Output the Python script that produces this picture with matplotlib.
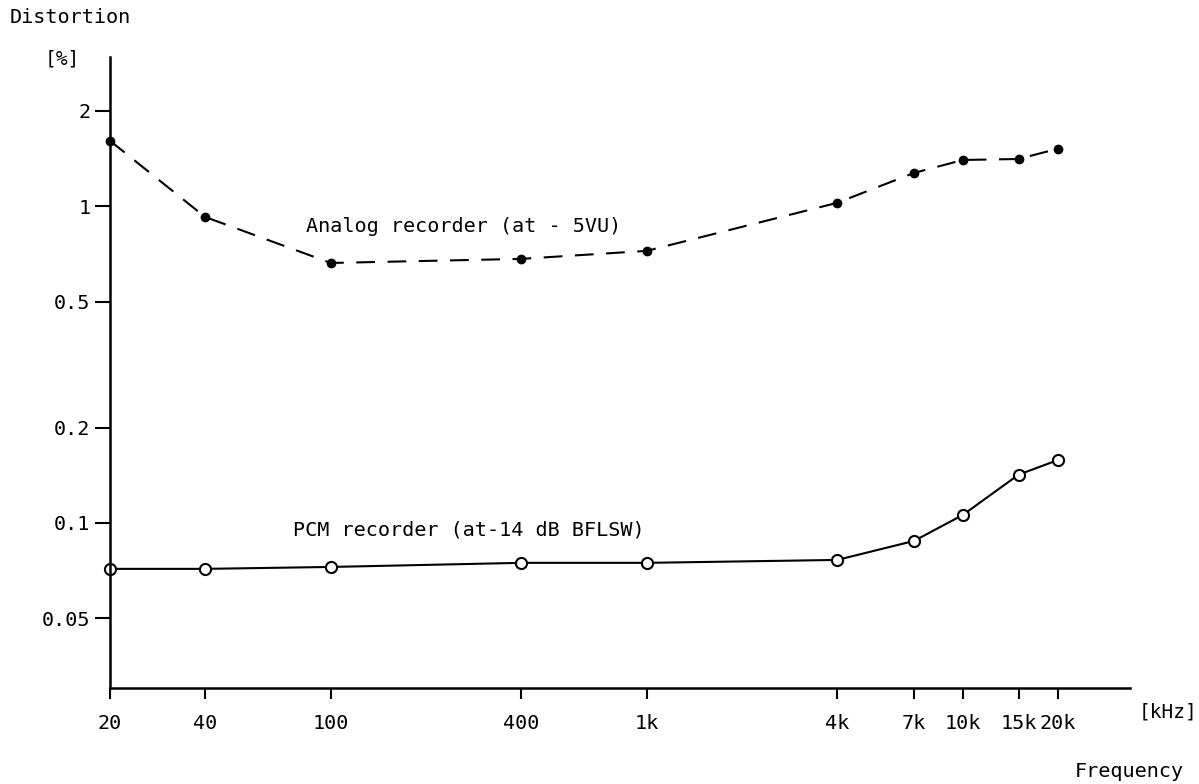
import numpy as np
import matplotlib
matplotlib.use('Agg')
import matplotlib.pyplot as plt
import matplotlib.ticker as ticker

plt.rcParams['font.family'] = ['DejaVu Sans Mono']

freq = [20, 40, 100, 400, 1000, 4000, 7000, 10000, 15000, 20000]
analog = [1.61, 0.925, 0.662, 0.682, 0.723, 1.025, 1.274, 1.40, 1.41, 1.52]
pcm = [0.0716, 0.0716, 0.0726, 0.0748, 0.0748, 0.0764, 0.0877, 0.106, 0.142, 0.158]

xticks = [20, 40, 100, 400, 1000, 4000, 7000, 10000, 15000, 20000]
xlabels = ['20', '40', '100', '400', '1k', '4k', '7k', '10k', '15k', '20k']
yticks = [0.05, 0.1, 0.2, 0.5, 1, 2]
ylabels = ['0.05', '0.1', '0.2', '0.5', '1', '2']

fig = plt.figure(figsize=(11.99, 7.84), dpi=100)
ax = fig.add_axes([0.0917, 0.1224, 0.8508, 0.8049])

ax.plot(freq, analog, color='black', lw=1.5, dashes=(9, 6),
        marker='o', markersize=6, markerfacecolor='black', clip_on=False)
ax.plot(freq, pcm, color='black', lw=1.5,
        marker='o', markersize=8, markerfacecolor='white',
        markeredgewidth=1.5, clip_on=False)

ax.set_xscale('log')
ax.set_yscale('log')
ax.set_xlim(20, 33800)
ax.set_ylim(0.0301, 2.96)

ax.xaxis.set_major_locator(ticker.FixedLocator(xticks))
ax.xaxis.set_minor_locator(ticker.NullLocator())
ax.set_xticklabels(xlabels)
ax.yaxis.set_major_locator(ticker.FixedLocator(yticks))
ax.yaxis.set_minor_locator(ticker.NullLocator())
ax.set_yticklabels(ylabels)

ax.tick_params(axis='both', direction='out', width=1.5,
               labelsize=14.5, colors='black')
ax.tick_params(axis='x', length=8, pad=11)
ax.tick_params(axis='y', length=11, pad=3)

for s in ['top', 'right']:
    ax.spines[s].set_visible(False)
for s in ['left', 'bottom']:
    ax.spines[s].set_linewidth(1.8)

fig.text(0.255, 0.711, 'Analog recorder (at - 5VU)', fontsize=14.5, va='center')
fig.text(0.244, 0.324, 'PCM recorder (at-14 dB BFLSW)', fontsize=14.5, va='center')

fig.text(0.008, 0.978, 'Distortion', fontsize=14.5, va='center')
fig.text(0.037, 0.925, '[%]', fontsize=14, va='center')
fig.text(0.950, 0.092, '[kHz]', fontsize=14, va='center')
fig.text(0.896, 0.016, 'Frequency', fontsize=14.5, va='center')

fig.savefig('out.png', dpi=100, facecolor='white')
